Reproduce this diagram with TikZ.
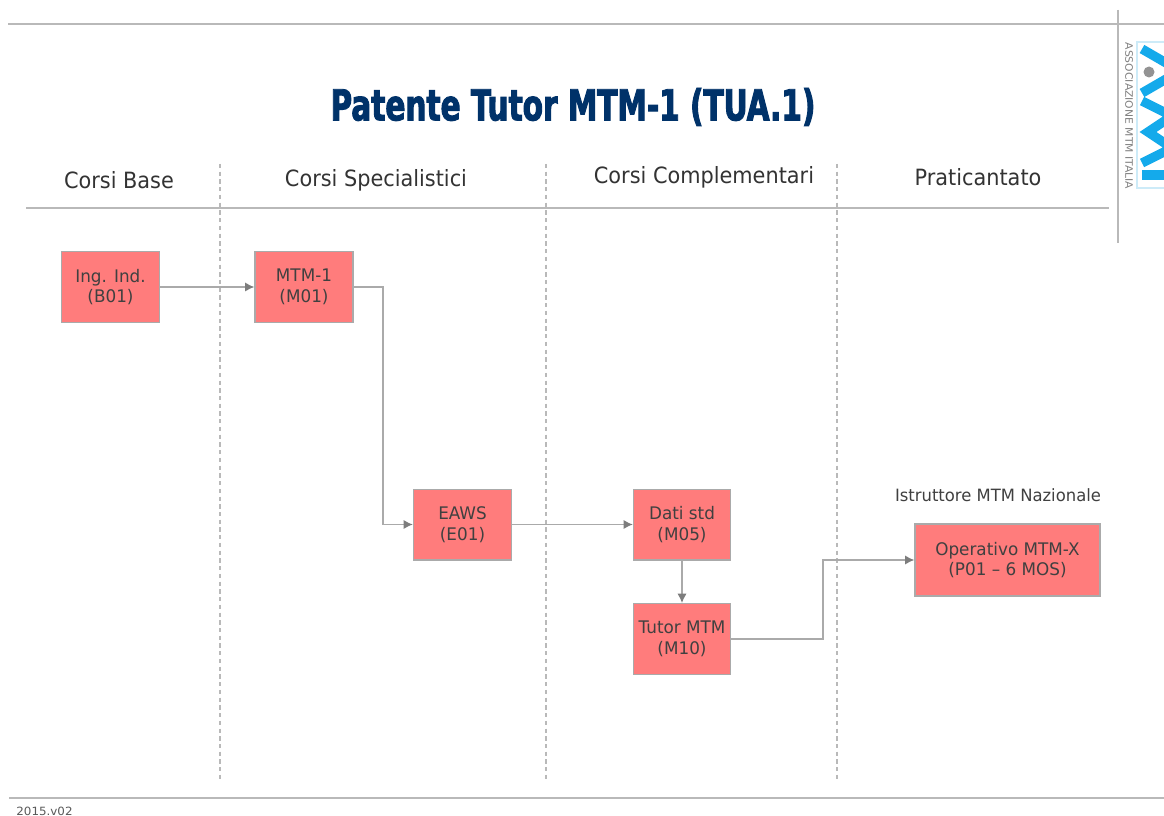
\documentclass[tikz,border=0pt]{standalone}
\usepackage{fontspec}
\setmainfont{DejaVu Sans}
\newfontfamily\boxfont{DejaVu Sans}[FakeStretch=0.97]
\newfontfamily\headfont{DejaVu Sans}[FakeStretch=0.93]
\newfontfamily\smallfont{DejaVu Sans}[FakeStretch=1.05]
\newfontfamily\titlefont{DejaVu Sans Condensed Bold}[FakeStretch=0.77,FakeBold=2.2]
\usetikzlibrary{arrows.meta}
\definecolor{boxred}{RGB}{255,124,124}
\definecolor{boxedge}{RGB}{170,170,170}
\definecolor{rulegray}{RGB}{185,185,185}
\definecolor{linkgray}{RGB}{170,170,170}
\definecolor{tipgray}{RGB}{125,125,125}
\definecolor{titleblue}{RGB}{0,50,105}
\definecolor{logoblue}{RGB}{20,170,235}
\definecolor{logoframe}{RGB}{205,235,248}
\tikzset{
  x=0.75pt,y=-0.75pt,
  course/.style={draw=boxedge,line width=1pt,fill=boxred,minimum width=#1*0.75pt,minimum height=53pt,inner sep=0pt,align=center,font=\boxfont\fontsize{13}{15.5}\selectfont,text=black!75},
  course/.default=98,
  link/.style={draw=linkgray,line width=1.1pt,-{Latex[length=7pt,width=7pt,color=tipgray]}},
  rulel/.style={draw=rulegray,line width=1pt},
  divider/.style={draw=rulegray,line width=1pt,dash pattern=on 3.2pt off 2.6pt},
  header/.style={font=\headfont\fontsize{16.8}{19}\selectfont,text=black!80,inner sep=0pt},
  logostroke/.style={draw=logoblue,line width=7pt,line join=miter,miter limit=10}
}
\begin{document}
\begin{tikzpicture}
\useasboundingbox (0,0) rectangle (1164,816);
\fill[white] (0,0) rectangle (1164,816);
% rules
\coordinate (t1) at (8,24); \coordinate (t2) at (1164,24);
\coordinate (h1) at (26,208); \coordinate (h2) at (1109,208);
\coordinate (b1) at (9,798); \coordinate (b2) at (1164,798);
\coordinate (v1) at (1118,10); \coordinate (v2) at (1118,243);
\draw[rulel] (t1)--(t2);
\draw[rulel] (h1)--(h2);
\draw[rulel] (b1)--(b2);
\draw[rulel] (v1)--(v2);
% dividers
\coordinate (d1a) at (220,164); \coordinate (d1b) at (220,780);
\coordinate (d2a) at (546,164); \coordinate (d2b) at (546,780);
\coordinate (d3a) at (837,164); \coordinate (d3b) at (837,780);
\draw[divider] (d1a)--(d1b);
\draw[divider] (d2a)--(d2b);
\draw[divider] (d3a)--(d3b);
% title
\node[text=titleblue,inner sep=0pt] (title) at (573,107) {\titlefont\fontsize{32}{34}\selectfont Patente Tutor MTM-1 (TUA.1)};
% headers
\node[header] (hA) at (119,180) {Corsi Base};
\node[header] (hB) at (376,180) {Corsi Specialistici};
\node[header] (hC) at (704,177) {Corsi Complementari};
\node[header] (hD) at (978,177) {Praticantato};
% boxes
\node[course=98] (b01) at (110.5,287) {Ing. Ind.\\(B01)};
\node[course=98] (m01) at (304,287) {MTM-1\\(M01)};
\node[course=98] (e01) at (462.5,524.5) {EAWS\\(E01)};
\node[course=97] (m05) at (682,524.5) {Dati std\\(M05)};
\node[course=97] (m10) at (682,639) {Tutor MTM\\(M10)};
\node[course=185,minimum height=54pt] (p01) at (1007.5,560) {Operativo MTM-X\\(P01 – 6 MOS)};
\node[inner sep=0pt,text=black!75,font=\boxfont\fontsize{12.7}{14}\selectfont] (ist) at (998,495) {Istruttore MTM Nazionale};
\node[inner sep=0pt,text=black!65,font=\smallfont\fontsize{8.5}{10}\selectfont] (ver) at (44.5,811) {2015.v02};
% connectors
\draw[link] (b01.east)--(m01.west);
\draw[link] (m01.east)-|(383,400)|-(e01.west);
\draw[link] (e01.east)--(m05.west);
\draw[link] (m05.south)--(m10.north);
\draw[link] (m10.east)-|(823,600)|-(p01.west);
% logo
\draw[draw=logoframe,line width=1.2pt,fill=white] (1164,42)--(1137,42)--(1137,188)--(1164,188);
\begin{scope}
\clip (1138,43) rectangle (1164,187);
\draw[logostroke] (1142,49)--(1180,71)--(1142,93);
\fill[gray!85] (1149,72) circle[radius=5.5];
\draw[logostroke] (1142,101)--(1172,116)--(1148,132)--(1172,148)--(1142,163);
\fill[logoblue] (1142,170) rectangle (1164,180);
\end{scope}
\node[rotate=-90,inner sep=0pt,text=black!50,font=\smallfont\fontsize{7.7}{9}\selectfont] (assoc) at (1129,116) {ASSOCIAZIONE MTM ITALIA};
\end{tikzpicture}
\end{document}
